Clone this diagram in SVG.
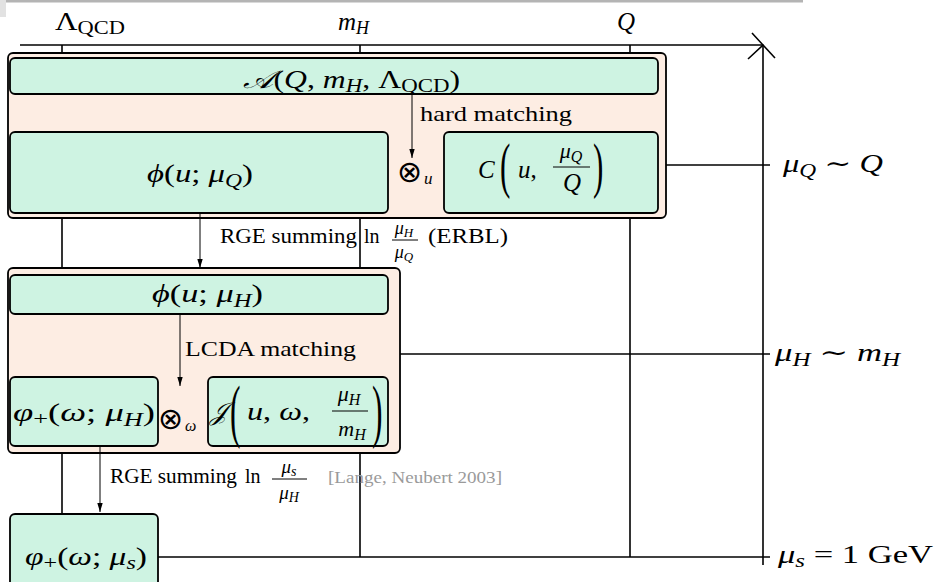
<svg xmlns="http://www.w3.org/2000/svg" width="935" height="582" viewBox="0 0 935 582">
<defs>
<style>
.outer{fill:#FDEDE3;stroke:#000;stroke-width:1.8}
.inner{fill:#CEF3E2;stroke:#000;stroke-width:1.8}
.grid{stroke:#000;stroke-width:1.6;fill:none}
.arr{stroke:#000;stroke-width:1;fill:none;marker-end:url(#ah)}
.m{font-family:"Liberation Serif","DejaVu Serif","DejaVu Sans",serif;font-style:italic;fill:#000}
.r{font-family:"Liberation Serif","DejaVu Serif",serif;font-style:normal;fill:#000}
.o{font-family:"DejaVu Sans",sans-serif;font-style:normal;fill:#000}
.u{font-style:normal}
.bar{stroke:#000;stroke-width:1}
</style>
<marker id="ah" markerUnits="userSpaceOnUse" markerWidth="9" markerHeight="6" refX="9" refY="3" orient="auto">
<path d="M0,0.3 L9,3 L0,5.7 z" fill="#000"/>
</marker>
</defs>
<rect x="0" y="0" width="935" height="582" fill="#fff"/>
<rect x="0" y="0" width="803" height="2.5" fill="#b4b4b4"/>
<rect x="0" y="0" width="6" height="17" fill="#e2e2e2"/>

<g id="scale-lines">
<line class="grid" x1="20" y1="45" x2="763" y2="45"/>
<polyline class="grid" points="752,33 763,45 748,59"/>
<line class="grid" x1="763" y1="45" x2="775" y2="58"/>
<line class="grid" x1="763" y1="45" x2="763" y2="565"/>
<line class="grid" x1="62" y1="45" x2="62" y2="514"/>
<line class="grid" x1="360" y1="45" x2="360" y2="557"/>
<line class="grid" x1="630" y1="45" x2="630" y2="557"/>
<line class="grid" x1="666" y1="165" x2="770" y2="165"/>
<line class="grid" x1="400" y1="354" x2="770" y2="354"/>
<line class="grid" x1="158" y1="557" x2="770" y2="557"/>
</g>

<g id="axis-labels">
<text class="r" font-size="25" x="55" y="30" textLength="70" lengthAdjust="spacingAndGlyphs">Λ<tspan font-size="18" dy="4">QCD</tspan></text>
<text class="m" font-size="25" x="338" y="30">m<tspan font-size="18" dy="4">H</tspan></text>
<text class="m" font-size="25" x="617" y="30">Q</text>
<text class="m" font-size="25" x="783" y="172" textLength="100" lengthAdjust="spacingAndGlyphs">μ<tspan font-size="18" dy="5">Q</tspan><tspan class="u" dy="-5"> ∼ </tspan>Q</text>
<text class="m" font-size="25" x="775" y="361" textLength="125" lengthAdjust="spacingAndGlyphs">μ<tspan font-size="18" dy="5">H</tspan><tspan class="u" dy="-5"> ∼ </tspan>m<tspan font-size="18" dy="5">H</tspan></text>
<text class="m" font-size="25" x="778" y="563" textLength="155" lengthAdjust="spacingAndGlyphs">μ<tspan font-size="18" dy="4">s</tspan><tspan class="u" dy="-4"> = 1 GeV</tspan></text>
</g>

<g id="box-Q">
<rect class="outer" x="8" y="53" width="658" height="165" rx="5"/>
</g>
<g id="node-A">
<rect class="inner" x="10" y="58" width="648" height="36" rx="5"/>
<text class="m" font-size="25" x="243" y="88" textLength="217" lengthAdjust="spacingAndGlyphs">𝒜<tspan class="u">(</tspan>Q<tspan class="u">, </tspan>m<tspan font-size="18" dy="4">H</tspan><tspan class="u" dy="-4">, Λ</tspan><tspan class="u" font-size="18" dy="4">QCD</tspan><tspan class="u" dy="-4">)</tspan></text>
</g>
<g id="node-phiQ">
<rect class="inner" x="10" y="132" width="378" height="81" rx="5"/>
<text class="m" font-size="25" x="147" y="182" textLength="106" lengthAdjust="spacingAndGlyphs">ϕ<tspan class="u">(</tspan>u<tspan class="u">; </tspan>μ<tspan font-size="18" dy="5">Q</tspan><tspan class="u" dy="-5">)</tspan></text>
</g>
<g id="node-C">
<rect class="inner" x="444" y="132" width="214" height="81" rx="5"/>
<text class="m" font-size="25" x="478" y="178">C</text>
<text class="r" font-size="62" transform="translate(500,186) scale(0.5,1)">(</text>
<text class="m" font-size="25" x="518" y="178">u<tspan class="u">,</tspan></text>
<text class="m" font-size="22" x="571" y="158" text-anchor="middle">μ<tspan font-size="16" dy="4">Q</tspan></text>
<line class="bar" x1="553" y1="167" x2="590" y2="167"/>
<text class="m" font-size="25" x="572" y="191" text-anchor="middle">Q</text>
<text class="r" font-size="62" transform="translate(593,186) scale(0.5,1)">)</text>
</g>
<g id="otimes-u">
<text class="o" font-size="30" x="397" y="182">⊗</text>
<text class="m" font-size="17" x="424" y="184">u</text>
</g>

<g id="box-H">
<rect class="outer" x="8" y="268" width="392" height="185" rx="5"/>
</g>
<g id="node-phiH">
<rect class="inner" x="10" y="275" width="378" height="39" rx="5"/>
<text class="m" font-size="25" x="152" y="302" textLength="111" lengthAdjust="spacingAndGlyphs">ϕ<tspan class="u">(</tspan>u<tspan class="u">; </tspan>μ<tspan font-size="18" dy="5">H</tspan><tspan class="u" dy="-5">)</tspan></text>
</g>
<g id="node-varphiH">
<rect class="inner" x="10" y="377" width="148" height="69" rx="5"/>
<text class="m" font-size="25" x="13" y="421" textLength="142" lengthAdjust="spacingAndGlyphs">φ<tspan class="u" font-size="18" dy="4">+</tspan><tspan class="u" dy="-4">(</tspan>ω<tspan class="u">; </tspan>μ<tspan font-size="18" dy="5">H</tspan><tspan class="u" dy="-5">)</tspan></text>
</g>
<g id="otimes-w">
<text class="o" font-size="30" x="158" y="429">⊗</text>
<text class="m" font-size="16" x="185" y="431">ω</text>
</g>
<g id="node-J">
<rect class="inner" x="208" y="377" width="180" height="69" rx="5"/>
<text class="m" font-size="25" x="210" y="420">𝒥</text>
<text class="r" font-size="70" transform="translate(230,434) scale(0.45,1)">(</text>
<text class="m" font-size="25" x="247" y="420" textLength="63" lengthAdjust="spacingAndGlyphs">u<tspan class="u">, </tspan>ω<tspan class="u">,</tspan></text>
<text class="m" font-size="22" x="349" y="401" text-anchor="middle">μ<tspan font-size="16" dy="4">H</tspan></text>
<line class="bar" x1="332" y1="411" x2="368" y2="411"/>
<text class="m" font-size="22" x="352" y="436" text-anchor="middle">m<tspan font-size="16" dy="4">H</tspan></text>
<text class="r" font-size="70" transform="translate(372,434) scale(0.45,1)">)</text>
</g>
<g id="node-varphiS">
<rect class="inner" x="10" y="514" width="148" height="80" rx="5"/>
<text class="m" font-size="25" x="25" y="565" textLength="122" lengthAdjust="spacingAndGlyphs">φ<tspan class="u" font-size="18" dy="4">+</tspan><tspan class="u" dy="-4">(</tspan>ω<tspan class="u">; </tspan>μ<tspan font-size="18" dy="4">s</tspan><tspan class="u" dy="-4">)</tspan></text>
</g>

<g id="connectors">
<line class="arr" x1="412" y1="94" x2="412" y2="158"/>
<line class="arr" x1="200" y1="213" x2="200" y2="268"/>
<line class="arr" x1="180" y1="314" x2="180" y2="386"/>
<line class="arr" x1="100" y1="446" x2="100" y2="512"/>
</g>

<g id="connector-labels">
<text class="r" font-size="22" x="420" y="121" textLength="152" lengthAdjust="spacingAndGlyphs">hard matching</text>
<text class="r" font-size="20" x="220" y="243" textLength="137" lengthAdjust="spacingAndGlyphs">RGE summing</text>
<text class="r" font-size="20" x="364" y="243">ln</text>
<text class="m" font-size="18" x="404" y="234" text-anchor="middle">μ<tspan font-size="13" dy="3">H</tspan></text>
<line class="bar" x1="392" y1="240" x2="418" y2="240"/>
<text class="m" font-size="18" x="404" y="258" text-anchor="middle">μ<tspan font-size="13" dy="3">Q</tspan></text>
<text class="r" font-size="20" x="428" y="243" textLength="80" lengthAdjust="spacingAndGlyphs">(ERBL)</text>
<text class="r" font-size="22" x="185" y="356" textLength="171" lengthAdjust="spacingAndGlyphs">LCDA matching</text>
<text class="r" font-size="20" x="110" y="483" textLength="127" lengthAdjust="spacingAndGlyphs">RGE summing</text>
<text class="r" font-size="20" x="245" y="483">ln</text>
<text class="m" font-size="19" x="289" y="473" text-anchor="middle">μ<tspan font-size="14" dy="3">s</tspan></text>
<line class="bar" x1="272" y1="479" x2="307" y2="479"/>
<text class="m" font-size="19" x="289" y="499" text-anchor="middle">μ<tspan font-size="14" dy="3">H</tspan></text>
<text class="r" font-size="17" x="328" y="483" style="fill:#9a9a9a" textLength="174" lengthAdjust="spacingAndGlyphs">[Lange, Neubert 2003]</text>
</g>
</svg>
